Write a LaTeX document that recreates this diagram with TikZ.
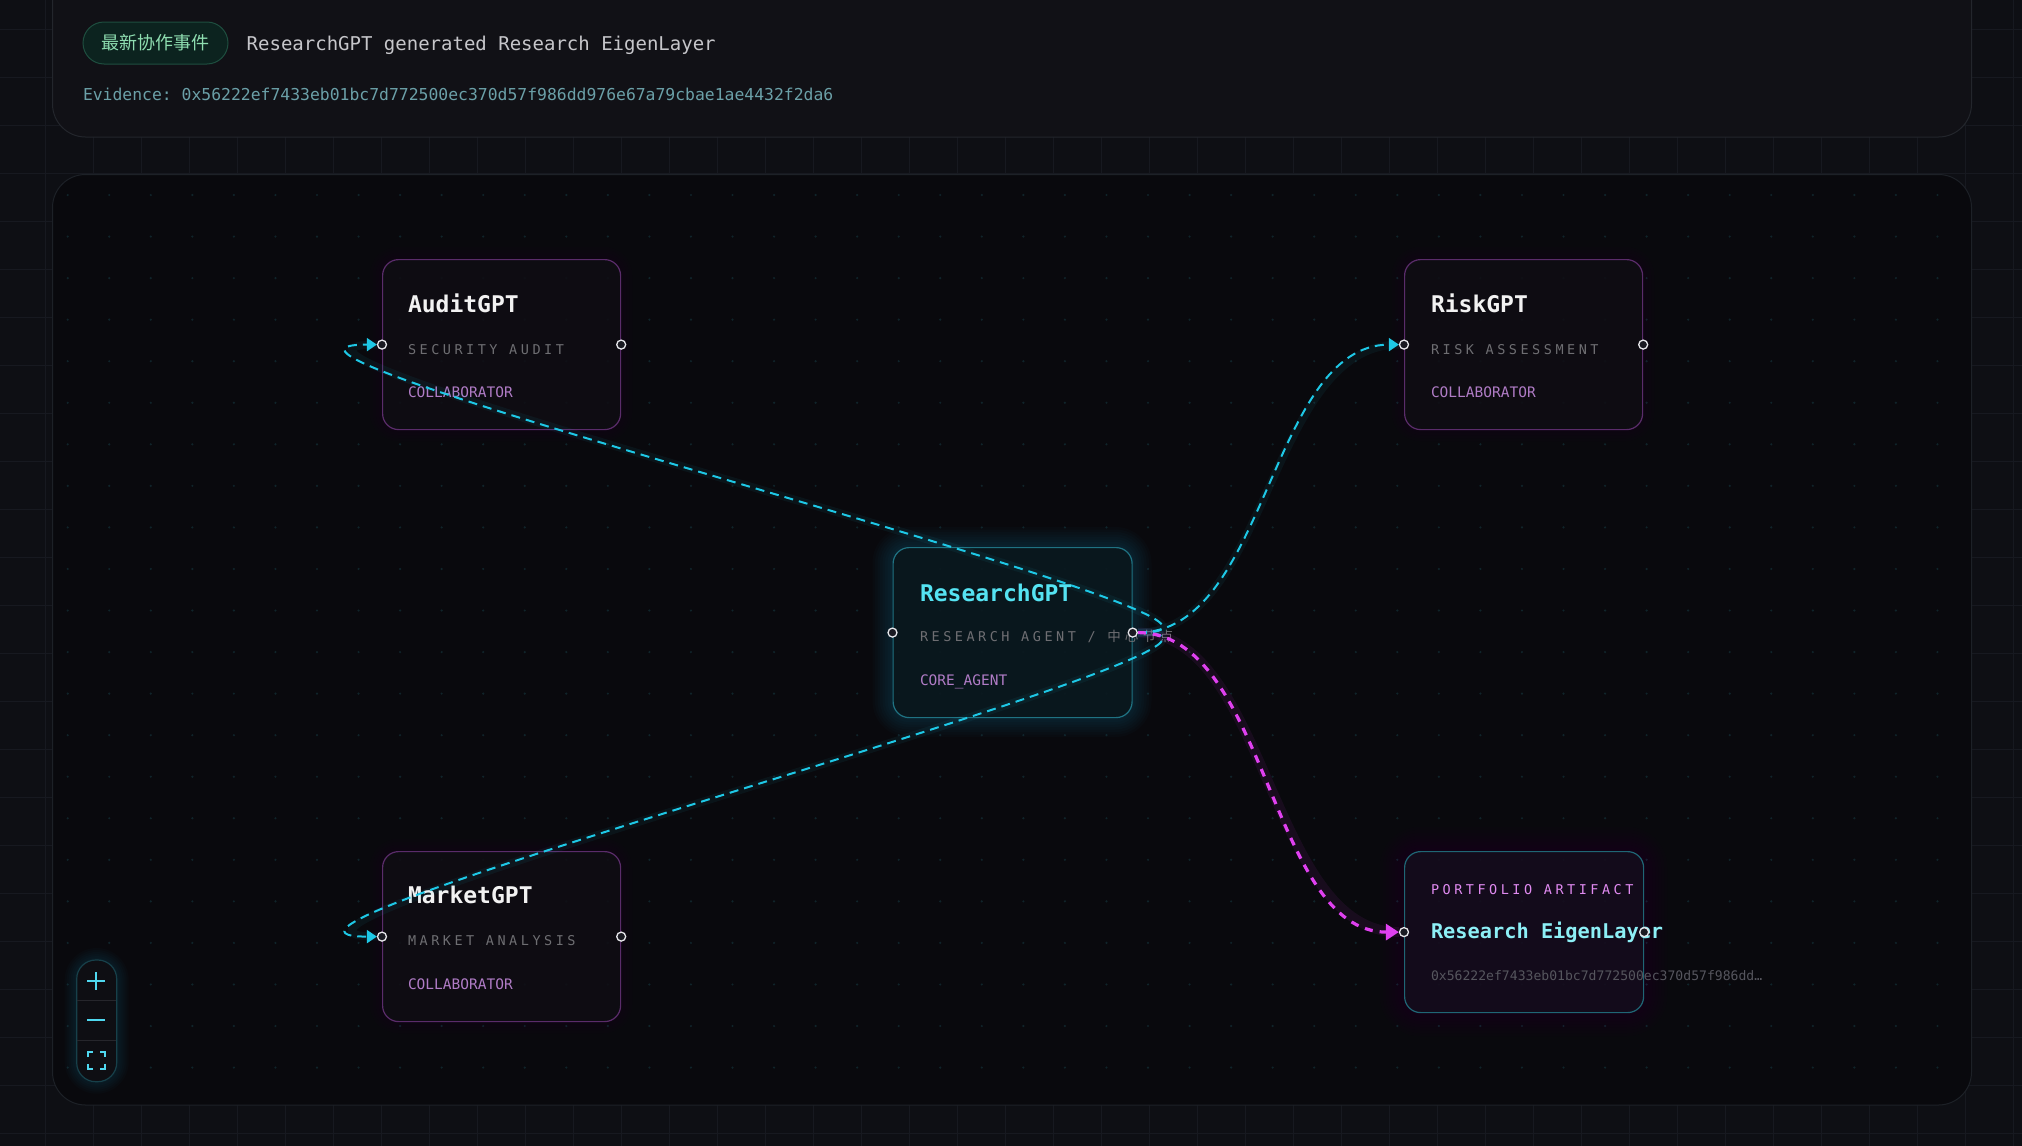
\documentclass[tikz,border=0pt]{standalone}
\usepackage{fontspec}
\setmonofont{DejaVu Sans Mono}
\newfontfamily\cjk{Noto Sans CJK SC}
\newfontfamily\spacedmono{DejaVu Sans Mono}[LetterSpace=26]
\newfontfamily\spacedcjk{Noto Sans CJK SC}[LetterSpace=30]
\usetikzlibrary{arrows.meta}
\pgfdeclarelayer{edgelayer}
\pgfdeclarelayer{portlayer}
\pgfsetlayers{main,edgelayer,portlayer}

\definecolor{bg}{HTML}{0E0F14}
\definecolor{gridc}{HTML}{171920}
\definecolor{panelAfill}{HTML}{111116}
\definecolor{panelAbord}{HTML}{23262C}
\definecolor{panelBfill}{HTML}{09090D}
\definecolor{panelBbord}{HTML}{1D2127}
\definecolor{dotc}{HTML}{10242A}
\definecolor{titlewhite}{HTML}{F2F2F2}
\definecolor{subgray}{HTML}{6E6E72}
\definecolor{rolepurple}{HTML}{B07CC6}
\definecolor{cyantitle}{HTML}{55E3F2}
\definecolor{artpink}{HTML}{E08AF0}
\definecolor{arttitle}{HTML}{8DEFF6}
\definecolor{hashgray}{HTML}{56565E}
\definecolor{evid}{HTML}{6BA0A8}
\definecolor{toptitle}{HTML}{C6C6CA}
\definecolor{badgetxt}{HTML}{8EDDB0}
\definecolor{badgefill}{HTML}{0C231F}
\definecolor{badgebord}{HTML}{1E4E3F}
\definecolor{purpbord}{HTML}{5A2C6A}
\definecolor{corebord}{HTML}{1F7282}
\definecolor{artbord}{HTML}{1F6675}
\definecolor{nodefill}{HTML}{0F0E13}
\definecolor{corefill}{HTML}{0A161B}
\definecolor{artfill}{HTML}{140D1C}
\definecolor{edgecyan}{HTML}{1EC8E6}
\definecolor{edgemag}{HTML}{E040F0}
\definecolor{portc}{HTML}{E6E6EA}
\definecolor{portfill}{HTML}{1A1A22}
\definecolor{ctrlbord}{HTML}{17404A}
\definecolor{ctrlfill}{HTML}{0E0E13}
\definecolor{ctrldiv}{HTML}{26262C}
\definecolor{ctrlicon}{HTML}{4FD8F0}

\begin{document}
\begin{tikzpicture}[x=1pt,y=-1pt,
  agent/.style={draw=purpbord, line width=1.2pt, fill=nodefill, fill opacity=0.88,
    rounded corners=16pt, minimum width=238pt, minimum height=170pt,
    anchor=north west, inner sep=0pt},
  corebox/.style={agent, draw=corebord, fill=corefill},
  artbox/.style={agent, draw=artbord, fill=artfill, minimum height=161pt},
  txt/.style={anchor=base west, inner sep=0pt, outer sep=0pt},
  nametxt/.style={txt, text=titlewhite, font={\fontsize{23}{27}\selectfont\ttfamily\bfseries}},
  subtxt/.style={txt, text=subgray, font={\fontsize{13.5}{16}\selectfont\spacedmono}},
  roletxt/.style={txt, text=rolepurple, font={\fontsize{14.5}{17}\selectfont\ttfamily}},
  port/.style={circle, draw=portc, fill=portfill, line width=1.3pt, minimum size=9pt, inner sep=0pt},
  cyanedge/.style={draw=edgecyan, line width=2pt, dash pattern=on 9pt off 6pt,
    -{Triangle[length=10pt,width=13pt]}},
  magedge/.style={draw=edgemag, line width=3.2pt, dash pattern=on 8pt off 7pt,
    -{Triangle[length=13pt,width=16pt]}},
  cyanglow/.style={draw=edgecyan, line width=8pt, opacity=0.06},
  magglow/.style={draw=edgemag, line width=10pt, opacity=0.07},
  ctrlline/.style={draw=ctrlicon, line width=2.4pt}
]
\useasboundingbox (0,0) rectangle (2022,1146);
\fill[bg] (0,0) rectangle (2022,1146);
% background grid
\foreach \i in {0,...,41} \draw[gridc, line width=0.8pt] ({45.7+48*\i},0) -- ++(0,1146);
\foreach \j in {0,...,23} \draw[gridc, line width=0.8pt] (0,{29.3+48*\j}) -- ++(2022,0);

% top panel
\draw[fill=panelAfill, draw=panelAbord, line width=1pt, rounded corners=33pt] (52.5,-40) rectangle (1971.5,137);
\node[draw=badgebord, fill=badgefill, line width=1pt, rounded corners=21pt,
  minimum width=145pt, minimum height=42pt, inner sep=0pt, text=badgetxt,
  font={\fontsize{18}{20}\selectfont\cjk}] (badge) at (155.5,43) {最新协作事件};
\node[txt, text=toptitle, font={\fontsize{19}{22}\selectfont\ttfamily}] (toptitle) at (246.7,50) {ResearchGPT generated Research EigenLayer};
\node[txt, text=evid, font={\fontsize{16.4}{19}\selectfont\ttfamily}] (evidence) at (83,100.7) {Evidence: 0x56222ef7433eb01bc7d772500ec370d57f986dd976e67a79cbae1ae4432f2da6};

% main panel
\draw[fill=panelBfill, draw=panelBbord, line width=1pt, rounded corners=33pt] (52.5,174.5) rectangle (1971.5,1105);
\foreach \i in {0,...,45} \foreach \j in {0,...,21}
  \fill[dotc] ({67.7+41.55*\i},{195+41.55*\j}) circle (1.2);

% glows
\foreach \k in {1,...,8}
  \fill[cyan!70!teal, opacity=0.025, rounded corners={16pt+2.5pt*\k}]
    ({892.5-2.5*\k},{547-2.5*\k}) rectangle ({1131.5+2.5*\k},{717+2.5*\k});
\foreach \k in {1,...,8}
  \fill[violet, opacity=0.015, rounded corners={16pt+3pt*\k}]
    ({1404-3*\k},{851-3*\k}) rectangle ({1643+3*\k},{1012+3*\k});
\foreach \k in {1,...,4}
  \foreach \bx/\by in {382/259, 1404/259, 382/851}
    \fill[violet, opacity=0.015, rounded corners={16pt+3pt*\k}]
      ({\bx-3*\k},{\by-3*\k}) rectangle ({\bx+238+3*\k},{\by+170+3*\k});

% agent boxes
\node[agent] (audit) at (382,259) {};
\node[agent] (risk) at (1404,259) {};
\node[agent] (market) at (382,851) {};
\node[corebox, minimum width=239pt] (research) at (892.5,547) {};
\node[artbox, minimum width=239pt] (artifact) at (1404,851) {};

% texts
\node[nametxt] (auditT) at (408,312.7) {AuditGPT};
\node[subtxt] (auditS) at (408,354) {SECURITY AUDIT};
\node[roletxt] (auditR) at (408,397) {COLLABORATOR};

\node[nametxt] (riskT) at (1431,312.7) {RiskGPT};
\node[subtxt] (riskS) at (1431,354) {RISK ASSESSMENT};
\node[roletxt] (riskR) at (1431,397) {COLLABORATOR};

\node[nametxt] (marketT) at (408,903.3) {MarketGPT};
\node[subtxt] (marketS) at (408,945) {MARKET ANALYSIS};
\node[roletxt] (marketR) at (408,989) {COLLABORATOR};

\node[nametxt, text=cyantitle] (researchT) at (920,601.7) {ResearchGPT};
\node[subtxt] (researchS) at (920,641) {RESEARCH AGENT / {\spacedcjk 中心节点}};
\node[roletxt] (researchR) at (920,685.7) {CORE\_AGENT};

\node[subtxt, text=artpink] (artS) at (1431,894) {PORTFOLIO ARTIFACT};
\node[nametxt, text=arttitle, font={\fontsize{20.3}{24}\selectfont\ttfamily\bfseries}] (artT) at (1431,938.3) {Research EigenLayer};
\node[txt, text=hashgray, font={\fontsize{13.1}{15}\selectfont\ttfamily}] (artH) at (1431,980) {0x56222ef7433eb01bc7d772500ec370d57f986dd…};

% ports
\begin{pgfonlayer}{portlayer}
\node[port] (auditPL) at (audit.west) {};
\node[port] (auditPR) at (audit.east) {};
\node[port] (riskPL) at (risk.west) {};
\node[port] (riskPR) at (risk.east) {};
\node[port] (marketPL) at (market.west) {};
\node[port] (marketPR) at (market.east) {};
\node[port] (resPL) at (research.west) {};
\node[port] (resPR) at (research.east) {};
\node[port] (artPL) at (artifact.west) {};
\node[port] (artPR) at (artifact.east) {};
\end{pgfonlayer}

% edges
\begin{pgfonlayer}{edgelayer}
\draw[cyanglow] (resPR) .. controls +(215,0) and +(-215,0) .. (auditPL);
\draw[cyanglow] (resPR) .. controls +(215,0) and +(-215,0) .. (marketPL);
\draw[cyanglow] (resPR) .. controls +(135,0) and +(-135,0) .. (riskPL);
\draw[magglow] (resPR) .. controls +(135,0) and +(-135,0) .. (artPL);
\draw[cyanedge] (resPR) .. controls +(215,0) and +(-215,0) .. (auditPL);
\draw[cyanedge] (resPR) .. controls +(215,0) and +(-215,0) .. (marketPL);
\draw[cyanedge] (resPR) .. controls +(135,0) and +(-135,0) .. (riskPL);
\draw[magedge] (resPR) .. controls +(135,0) and +(-135,0) .. (artPL);
\end{pgfonlayer}

% zoom controls
\foreach \k in {1,...,6}
  \fill[cyan!60!teal, opacity=0.025, rounded corners={20pt+2pt*\k}]
    ({76.7-2*\k},{960-2*\k}) rectangle ({116.7+2*\k},{1081.7+2*\k});
\draw[fill=ctrlfill, draw=ctrlbord, line width=1.2pt, rounded corners=19pt] (76.7,960) rectangle (116.7,1081.7);
\draw[ctrldiv, line width=1pt] (77.3,1000.7) -- (116.1,1000.7);
\draw[ctrldiv, line width=1pt] (77.3,1040.7) -- (116.1,1040.7);
\draw[ctrlline] (87,981) -- (105,981);
\draw[ctrlline] (96,972) -- (96,990);
\draw[ctrlline] (87.3,1020) -- (105,1020);
\draw[ctrlicon, line width=2pt] (87.5,1057) -- (87.5,1052) -- (92.5,1052);
\draw[ctrlicon, line width=2pt] (100,1052) -- (105,1052) -- (105,1057);
\draw[ctrlicon, line width=2pt] (105,1063.5) -- (105,1068.5) -- (100,1068.5);
\draw[ctrlicon, line width=2pt] (92.5,1068.5) -- (87.5,1068.5) -- (87.5,1063.5);
\end{tikzpicture}
\end{document}
